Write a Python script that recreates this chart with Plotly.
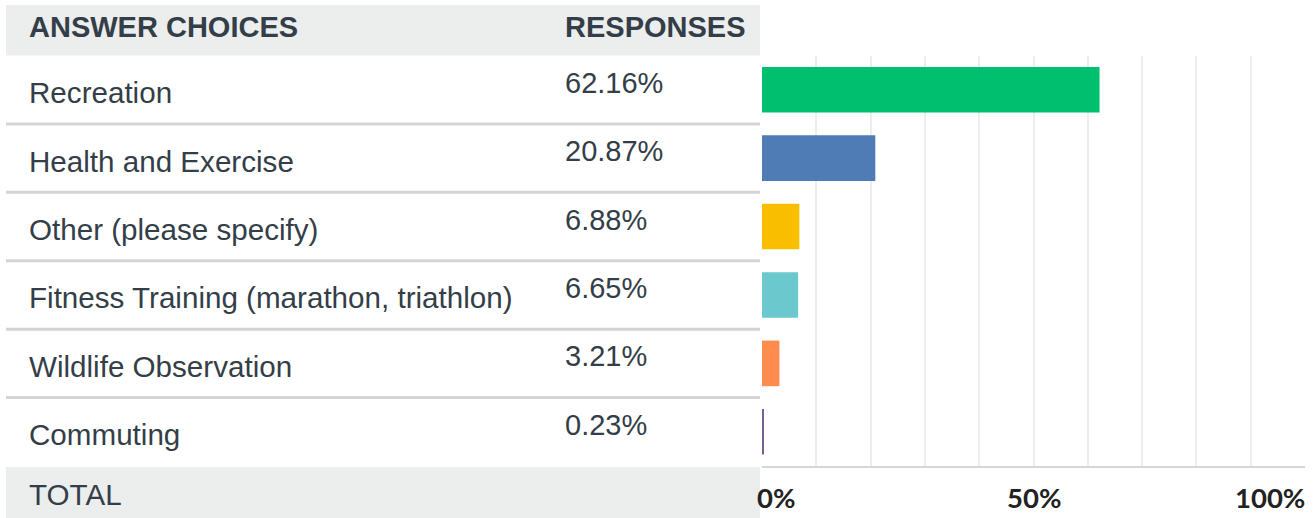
import plotly.graph_objects as go

# Survey results: share of responses per answer choice (percent)
answers = [
    "Recreation",
    "Health and Exercise",
    "Other (please specify)",
    "Fitness Training (marathon, triathlon)",
    "Wildlife Observation",
    "Commuting",
]
responses = [62.16, 20.87, 6.88, 6.65, 3.21, 0.23]
bar_colors = ["#00BF6F", "#507CB6", "#F9BE00", "#6BC8CD", "#FF8B4F", "#7D5E90"]
axis_ticks = [0, 50, 100]
axis_tick_text = ["0%", "50%", "100%"]

W, H = 1315, 518
TEXT = "#333E48"
BODY_FONT = "Liberation Sans, Arial, sans-serif"
BODY_SIZE = 29
LABEL_SIZE = 29.6


def px_x(x):
    return x / W


def px_y(y):
    return (H - y) / H


fig = go.Figure(
    go.Bar(
        x=responses,
        y=answers,
        orientation="h",
        marker=dict(color=bar_colors, line=dict(width=0)),
        hoverinfo="skip",
    )
)

shapes = []
annotations = []

# Table header and total row backgrounds
shapes.append(dict(type="rect", xref="paper", yref="paper",
                   x0=px_x(6), x1=px_x(760), y0=px_y(55.5), y1=px_y(5),
                   fillcolor="#ECEDED", line=dict(width=0), layer="below"))
shapes.append(dict(type="rect", xref="paper", yref="paper",
                   x0=px_x(6), x1=px_x(760), y0=px_y(518), y1=px_y(467),
                   fillcolor="#ECEDED", line=dict(width=0), layer="below"))

# Row separators between answer choices
for i in range(len(answers) - 1):
    shapes.append(dict(type="line", xref="paper", yref="y",
                       x0=px_x(6), x1=px_x(760), y0=i + 0.5, y1=i + 0.5,
                       line=dict(color="#D3D4D5", width=3)))

# Header text
annotations.append(dict(text="<b>ANSWER CHOICES</b>", xref="paper", yref="paper",
                        x=px_x(27), y=px_y(27), xanchor="left", yanchor="middle",
                        showarrow=False, font=dict(family=BODY_FONT, size=BODY_SIZE, color=TEXT)))
annotations.append(dict(text="<b>RESPONSES</b>", xref="paper", yref="paper",
                        x=px_x(563), y=px_y(27), xanchor="left", yanchor="middle",
                        showarrow=False, font=dict(family=BODY_FONT, size=BODY_SIZE, color=TEXT)))
annotations.append(dict(text="TOTAL", xref="paper", yref="paper",
                        x=px_x(27), y=px_y(494), xanchor="left", yanchor="middle",
                        showarrow=False, font=dict(family=BODY_FONT, size=LABEL_SIZE, color=TEXT)))

# Answer labels and response shares
for name, val in zip(answers, responses):
    annotations.append(dict(text=name, xref="paper", yref="y",
                            x=px_x(27), y=name, yshift=-3, xanchor="left", yanchor="middle",
                            showarrow=False, font=dict(family=BODY_FONT, size=LABEL_SIZE, color=TEXT)))
    annotations.append(dict(text=f"{val:.2f}%", xref="paper", yref="y",
                            x=px_x(563), y=name, yshift=7, xanchor="left", yanchor="middle",
                            showarrow=False, font=dict(family=BODY_FONT, size=BODY_SIZE, color=TEXT)))

# Percentage axis labels, kept inside the plotting band at both ends
anchors = ["left", "center", "right"]
shifts = [-7, 0, 2]
for v, t, a, s in zip(axis_ticks, axis_tick_text, anchors, shifts):
    annotations.append(dict(text=f"<b>{t}</b>", xref="x", yref="paper",
                            x=v, xshift=s, y=px_y(497), xanchor=a, yanchor="middle",
                            showarrow=False,
                            font=dict(family="Lato, Open Sans, sans-serif", size=27.5, color="#222222")))

fig.update_layout(
    width=W, height=H,
    margin=dict(l=0, r=0, t=0, b=0),
    paper_bgcolor="white",
    plot_bgcolor="white",
    showlegend=False,
    bargap=0.333,
    shapes=shapes,
    annotations=annotations,
    xaxis=dict(
        domain=[px_x(762), px_x(1305)],
        range=[0, 100],
        tickvals=list(range(0, 101, 10)),
        showticklabels=False,
        ticks="",
        showgrid=True,
        gridcolor="#EDEDED",
        gridwidth=1.5,
        zeroline=False,
        showline=True,
        linecolor="#D6D6D6",
        linewidth=1.5,
        fixedrange=True,
    ),
    yaxis=dict(
        domain=[px_y(466), px_y(55.5)],
        type="category",
        categoryorder="array",
        categoryarray=answers,
        range=[len(answers) - 0.5, -0.5],
        showticklabels=False,
        ticks="",
        showgrid=False,
        zeroline=False,
        showline=False,
        fixedrange=True,
    ),
)

fig.write_html("out.html")
